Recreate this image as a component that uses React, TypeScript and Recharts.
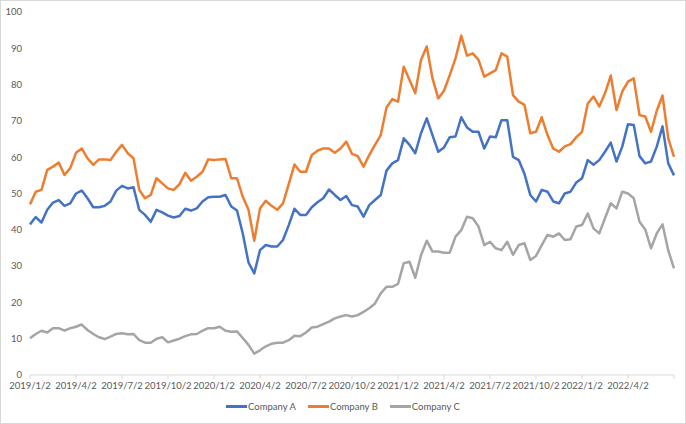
import { LineChart, Line, XAxis, YAxis } from "recharts";

// one point every ~8 trading days, 8 points per quarter
const quarterLabels = [
  "2019/1/2", "2019/4/2", "2019/7/2", "2019/10/2", "2020/1/2", "2020/4/2", "2020/7/2",
  "2020/10/2", "2021/1/2", "2021/4/2", "2021/7/2", "2021/10/2", "2022/1/2", "2022/4/2",
];
const pointsPerQuarter = 8;

const companyA = [
  41.5, 43.5, 42, 45.5, 47.5, 48.2, 46.6, 47.3, 50, 50.8,
  48.7, 46.2, 46.2, 46.6, 47.8, 50.8, 52.1, 51.4, 51.7, 45.5,
  44.1, 42.2, 45.5, 44.8, 43.9, 43.4, 43.8, 45.8, 45.3, 45.9,
  47.8, 49, 49.1, 49.1, 49.6, 46.4, 45.3, 39, 31, 28,
  34.4, 35.8, 35.4, 35.4, 37.2, 41.3, 45.8, 44.1, 44.1, 46.2,
  47.6, 48.7, 51.1, 49.6, 48.2, 49.3, 46.8, 46.4, 43.6, 46.8,
  48.2, 49.6, 56.3, 58.3, 59.2, 65.2, 63.4, 61.1, 66.6, 70.7,
  66.1, 61.5, 62.7, 65.5, 65.7, 71, 68.2, 67, 67, 62.4,
  65.7, 65.5, 70.2, 70.2, 60.1, 59.2, 55.4, 49.6, 47.8, 51,
  50.5, 47.8, 47.3, 50, 50.5, 53, 54.2, 59.2, 57.9, 59.2,
  61.5, 64, 58.8, 62.9, 69.1, 68.9, 60.3, 58.3, 58.8, 62.9,
  68.5, 58.3, 55,
];

const companyB = [
  47, 50.5, 51, 56.5, 57.4, 58.5, 55.1, 57, 61.2, 62.4,
  59.7, 57.9, 59.4, 59.4, 59.2, 61.5, 63.4, 61.1, 59.7, 51,
  48.7, 49.6, 54.2, 52.8, 51.4, 51, 52.6, 55.7, 53.5, 54.6,
  56, 59.4, 59.2, 59.4, 59.5, 54.2, 54.2, 49.1, 45.5, 37,
  45.9, 48, 46.6, 45.5, 47.3, 52.6, 58, 56, 56, 60.6,
  61.8, 62.4, 62.4, 61.2, 62.4, 64.3, 60.9, 60.3, 57.4, 60.6,
  63.4, 66.1, 73.7, 76, 75.3, 84.9, 81.3, 77.6, 86.8, 90.5,
  81.7, 76.2, 78.3, 82.6, 87.2, 93.5, 88, 88.6, 86.8, 82.2,
  83.1, 84, 88.6, 87.7, 77.1, 75.3, 74.4, 66.6, 67, 71,
  66.1, 62.4, 61.5, 63, 63.6, 65.5, 67, 74.8, 76.7, 74,
  77.6, 82.5, 73, 78.1, 80.8, 81.7, 71.6, 71.2, 67, 72.8,
  77, 65.2, 60.1,
];

const companyC = [
  10.1, 11.3, 12.2, 11.7, 12.9, 12.9, 12.2, 12.9, 13.3, 13.9,
  12.4, 11.3, 10.4, 9.9, 10.6, 11.3, 11.5, 11.2, 11.3, 9.6,
  8.9, 8.9, 10, 10.4, 9, 9.5, 10, 10.7, 11.2, 11.3,
  12.2, 12.9, 12.9, 13.3, 12.2, 11.9, 12, 10.2, 8.3, 5.9,
  6.8, 7.9, 8.6, 8.9, 8.9, 9.6, 10.8, 10.7, 11.7, 13.1,
  13.3, 14, 14.7, 15.6, 16.1, 16.5, 16.1, 16.5, 17.4, 18.4,
  19.7, 22.5, 24.3, 24.3, 25.1, 30.8, 31.2, 26.8, 33, 37,
  34, 34, 33.7, 33.7, 38.1, 39.9, 43.6, 43.2, 40.9, 35.8,
  36.7, 34.9, 34.4, 36.7, 33.1, 35.8, 36.3, 31.7, 32.8, 35.8,
  38.6, 38.1, 39, 37.2, 37.4, 40.9, 41.3, 44.5, 40.4, 39,
  43.2, 47.3, 45.9, 50.5, 50, 48.7, 42.2, 40.1, 34.9, 39,
  41.5, 34.3, 29.4,
];

const yTicks = [0, 10, 20, 30, 40, 50, 60, 70, 80, 90, 100];

const series = [
  { key: "a", name: "Company A", color: "#4472C4" },
  { key: "b", name: "Company B", color: "#ED7D31" },
  { key: "c", name: "Company C", color: "#A5A5A5" },
];

const data = companyA.map((a, i) => ({
  i,
  a,
  b: companyB[i],
  c: companyC[i],
}));

const lastIndex = quarterLabels.length * pointsPerQuarter;
const xTicks = [...quarterLabels.map((_, q) => q * pointsPerQuarter), lastIndex];

const font = "Lato, 'Liberation Sans', sans-serif";

function App() {
  return (
    <div
      style={{
        position: "absolute",
        left: 0,
        top: 0,
        width: 686,
        height: 424,
        boxSizing: "border-box",
        border: "1px solid #d9d9d9",
        background: "#ffffff",
        fontFamily: font,
      }}
    >
      <LineChart
        width={684}
        height={422}
        data={data}
        margin={{ top: 11, right: 11, left: 0, bottom: 28 }}
      >
        <XAxis
          dataKey="i"
          type="number"
          domain={[0, lastIndex]}
          ticks={xTicks}
          interval={0}
          tickFormatter={(v: number) => quarterLabels[v / pointsPerQuarter] ?? ""}
          height={20}
          stroke="#d9d9d9"
          tickSize={4}
          tickMargin={3}
          tick={{ fill: "#595959", fontSize: 9.5, fontFamily: font }}
        />
        <YAxis
          domain={[0, 100]}
          ticks={yTicks}
          width={29}
          axisLine={false}
          tickLine={false}
          tick={{ fill: "#595959", fontSize: 9.5, fontFamily: font }}
        />
        {series.map((s) => (
          <Line
            key={s.key}
            type="linear"
            dataKey={s.key}
            name={s.name}
            stroke={s.color}
            strokeWidth={2.5}
            strokeLinejoin="round"
            dot={false}
            isAnimationActive={false}
          />
        ))}
      </LineChart>
      <div
        style={{
          position: "absolute",
          top: 400,
          left: 0,
          width: 684,
          display: "flex",
          justifyContent: "center",
          gap: 12,
          fontSize: 9.5,
          color: "#595959",
        }}
      >
        {series.map((s) => (
          <div key={s.key} style={{ display: "flex", alignItems: "center" }}>
            <span
              style={{
                display: "inline-block",
                width: 21,
                height: 3,
                background: s.color,
                marginRight: 1,
              }}
            />
            <span>{s.name}</span>
          </div>
        ))}
      </div>
    </div>
  );
}

export default App;
